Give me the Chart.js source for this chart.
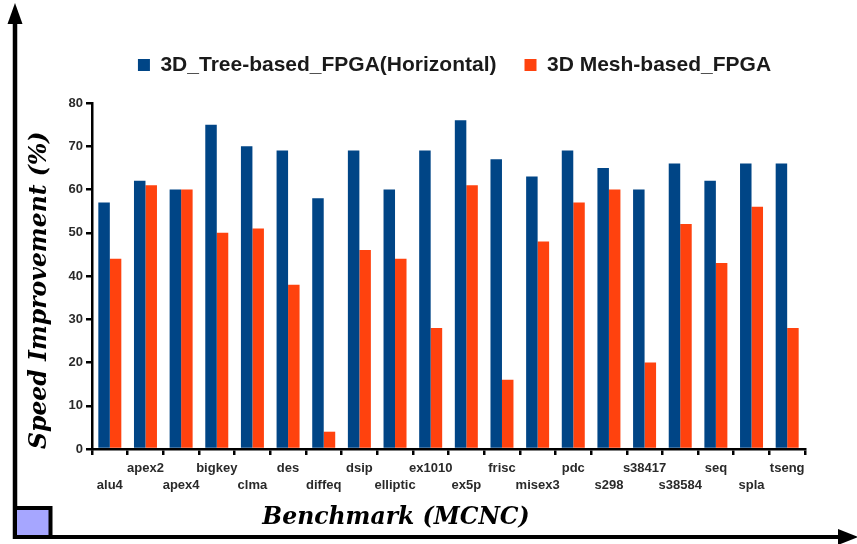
<!DOCTYPE html>
<html>
<head>
<meta charset="utf-8">
<script src="https://cdn.jsdelivr.net/npm/chart.js@4.4.0/dist/chart.umd.min.js"></script>
<style>
html,body{margin:0;padding:0;background:#fff;}
#wrap{width:857px;height:544px;position:relative;}
</style>
</head>
<body>
<div id="wrap"><canvas id="c" width="857" height="544"></canvas></div>
<script>
const categories = ['alu4','apex2','apex4','bigkey','clma','des','diffeq','dsip','elliptic','ex1010','ex5p','frisc','misex3','pdc','s298','s38417','s38584','seq','spla','tseng'];
const treeValues = [57,62,60,75,70,69,58,69,60,69,76,67,63,69,65,60,66,62,66,66];
const meshValues = [44,61,60,50,51,38,4,46,44,28,61,16,48,57,60,20,52,43,56,28];
const seriesNames = ['3D_Tree-based_FPGA(Horizontal)', '3D Mesh-based_FPGA'];
const yTicks = [0,10,20,30,40,50,60,70,80];
const yTitle = 'Speed Improvement (%)';
const xTitle = 'Benchmark (MCNC)';

const decor = {
  id: 'decor',
  afterLayout(chart) {
    const lg = chart.legend;
    if (lg) { lg.left += 52; lg.right += 52; lg.top -= 17.5; lg.bottom -= 17.5; }
    const tb = chart.titleBlock;
    if (tb) { tb.left -= 6.5; tb.right -= 6.5; }
  },
  afterDraw(chart) {
    const ctx = chart.ctx;
    ctx.save();
    ctx.fillStyle = '#000';
    ctx.strokeStyle = '#000';
    ctx.lineWidth = 4.5;
    ctx.beginPath(); ctx.moveTo(15, 22); ctx.lineTo(15, 539); ctx.stroke();
    ctx.beginPath(); ctx.moveTo(15, 3); ctx.lineTo(7.5, 24); ctx.lineTo(22.5, 24); ctx.closePath(); ctx.fill();
    ctx.lineWidth = 4;
    ctx.beginPath(); ctx.moveTo(13, 537); ctx.lineTo(842, 537); ctx.stroke();
    ctx.beginPath(); ctx.moveTo(858, 537); ctx.lineTo(838, 529); ctx.lineTo(838, 545); ctx.closePath(); ctx.fill();
    ctx.fillStyle = '#a6a6ff';
    ctx.fillRect(15, 508, 35.5, 29);
    ctx.lineWidth = 4;
    ctx.strokeRect(15, 508, 35.5, 29);
    ctx.restore();
  }
};

new Chart(document.getElementById('c'), {
  type: 'bar',
  data: {
    labels: categories,
    datasets: [
      { label: seriesNames[0], data: treeValues, backgroundColor: '#004586', borderWidth: 0 },
      { label: seriesNames[1], data: meshValues, backgroundColor: '#ff420e', borderWidth: 0 }
    ]
  },
  options: {
    responsive: false,
    animation: false,
    devicePixelRatio: 1,
    layout: { padding: { left: 0, right: 52, top: 44, bottom: 0 } },
    datasets: { bar: { categoryPercentage: 0.645, barPercentage: 1.0 } },
    plugins: {
      legend: {
        position: 'top',
        labels: {
          boxWidth: 12, boxHeight: 12, padding: 28,
          color: '#1a1a1a',
          font: { family: '"Liberation Sans", Arial, sans-serif', size: 21, weight: 'bold' }
        }
      },
      title: {
        display: true,
        position: 'bottom',
        text: xTitle,
        color: '#000',
        padding: { top: 0, bottom: 12 },
        font: { family: '"DejaVu Serif", serif', size: 23.5, weight: 'bold', style: 'italic', lineHeight: 1.2 }
      },
      tooltip: { enabled: false }
    },
    scales: {
      x: {
        afterFit(s) { s.height = 54.8; },
        border: { display: true, color: '#000', width: 2.5 },
        grid: { display: true, drawOnChartArea: false, drawTicks: true, tickLength: 6, color: '#000', lineWidth: 2.5, offset: true },
        ticks: {
          autoSkip: false, maxRotation: 0, minRotation: 0, padding: 5,
          color: '#2a2a2a',
          font: { family: '"Liberation Sans", Arial, sans-serif', size: 13, weight: 'bold', lineHeight: 1.3 },
          callback(v, i) { return i % 2 === 0 ? ['', categories[i]] : [categories[i], '']; }
        }
      },
      y: {
        min: 0, max: 80,
        afterFit(s) { s.width = 92; },
        afterBuildTicks(s) { s.ticks = yTicks.map(v => ({ value: v })); },
        border: { display: true, color: '#000', width: 2.5 },
        grid: { display: true, drawOnChartArea: false, drawTicks: true, tickLength: 6, color: '#000', lineWidth: 2.5 },
        ticks: {
          padding: 3,
          color: '#2a2a2a',
          font: { family: '"Liberation Sans", Arial, sans-serif', size: 13, weight: 'bold' }
        },
        title: {
          display: true,
          text: yTitle,
          align: 'start',
          color: '#000',
          padding: { top: 26, bottom: 0 },
          font: { family: '"DejaVu Serif", serif', size: 23.5, weight: 'bold', style: 'italic', lineHeight: 1.2 }
        }
      }
    }
  },
  plugins: [decor]
});
</script>
</body>
</html>
